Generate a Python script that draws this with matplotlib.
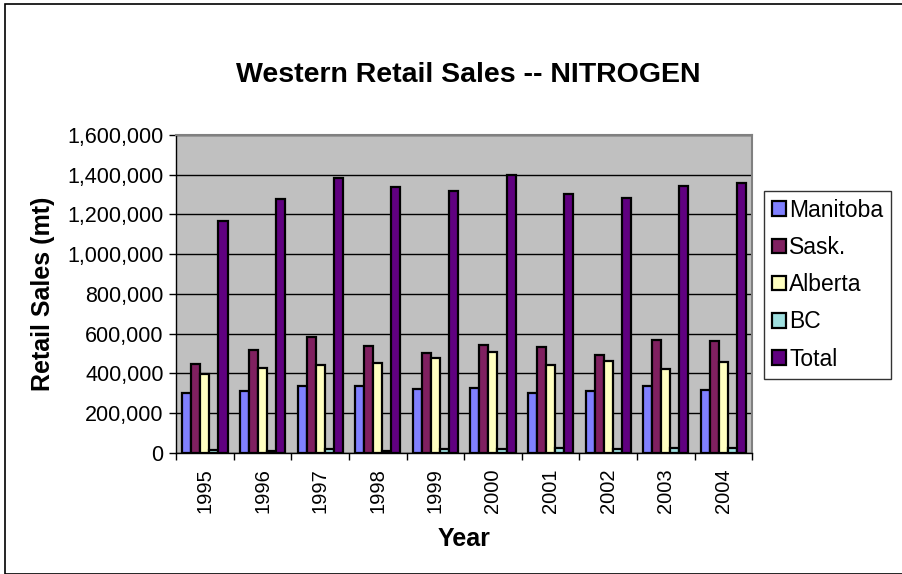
import numpy as np
import matplotlib
matplotlib.use("Agg")
import matplotlib.pyplot as plt
from matplotlib.ticker import FuncFormatter, MultipleLocator
from matplotlib.patches import Rectangle

plt.rcParams["font.family"] = ["Liberation Sans", "DejaVu Sans"]

# Datos
years = ["1995", "1996", "1997", "1998", "1999", "2000", "2001", "2002", "2003", "2004"]
manitoba = [303000, 312000, 339000, 335000, 323000, 328000, 300000, 310000, 335000, 318000]
sask = [446000, 519000, 581000, 536000, 502000, 544000, 531000, 495000, 568000, 561000]
alberta = [397000, 429000, 440000, 453000, 475000, 510000, 443000, 461000, 421000, 455000]
bc = [13000, 10000, 18000, 10000, 18000, 18000, 27000, 18000, 24000, 24000]
total = [1167000, 1275000, 1381000, 1339000, 1320000, 1396000, 1304000, 1282000, 1344000, 1356000]

series = [
    ("Manitoba", manitoba, "#8080FF"),
    ("Sask.", sask, "#802060"),
    ("Alberta", alberta, "#FFFFC0"),
    ("BC", bc, "#A0E0E0"),
    ("Total", total, "#600080"),
]

fig = plt.figure(figsize=(9.03, 5.74), dpi=100)
ax = fig.add_axes([0.195, 0.211, 0.638, 0.554])
ax.set_facecolor("#C0C0C0")

x = np.arange(len(years))
w = 0.157
for i, (name, vals, col) in enumerate(series):
    ax.bar(x + (i - 2) * w, vals, width=w, color=col, edgecolor="black",
           linewidth=1.6, label=name, zorder=3)

ax.set_xlim(-0.5, len(years) - 0.5)
ax.set_ylim(0, 1600000)
ax.yaxis.set_major_locator(MultipleLocator(200000))
ax.yaxis.set_major_formatter(FuncFormatter(lambda v, p: f"{int(v):,}"))
ax.grid(axis="y", color="black", linewidth=1, zorder=1)

ax.set_xticks(x)
ax.set_xticklabels(years, rotation=90, fontsize=14.5)
ax.set_xticks(np.arange(len(years) + 1) - 0.5, minor=True)
ax.tick_params(axis="x", which="major", length=0, pad=11)
ax.tick_params(axis="x", which="minor", length=5, direction="out", width=1)
ax.tick_params(axis="y", labelsize=15.5, length=5, direction="out", width=1, pad=4)

for s in ["top", "right"]:
    ax.spines[s].set_color("#808080")
    ax.spines[s].set_linewidth(1.5)
for s in ["left", "bottom"]:
    ax.spines[s].set_color("black")
    ax.spines[s].set_linewidth(1)

# Títulos y etiquetas de ejes
fig.text(468 / 903, 0.869, "Western Retail Sales -- NITROGEN", ha="center", va="center",
         fontsize=20.5, fontweight="bold")
fig.text(43 / 903, 0.488, "Retail Sales (mt)", rotation=90, ha="center", va="center",
         fontsize=18, fontweight="bold")
fig.text(464 / 903, 1 - 539 / 574, "Year", ha="center", va="center",
         fontsize=18, fontweight="bold")

leg = fig.legend(loc="center left", bbox_to_anchor=(0.846, 0.504), fontsize=16.5,
                 frameon=True, fancybox=False, edgecolor="black", handlelength=0.6,
                 handleheight=0.6, handletextpad=0.15, labelspacing=0.62,
                 borderpad=0.35, borderaxespad=0)
leg.get_frame().set_linewidth(1)
for h in leg.legend_handles:
    h.set_linewidth(1.6)

# Borde exterior del gráfico
fig.patches.append(Rectangle((0.005, 0.0), 0.995, 0.993, transform=fig.transFigure,
                             fill=False, edgecolor="black", linewidth=1.2))

fig.savefig("out.png", dpi=100)
